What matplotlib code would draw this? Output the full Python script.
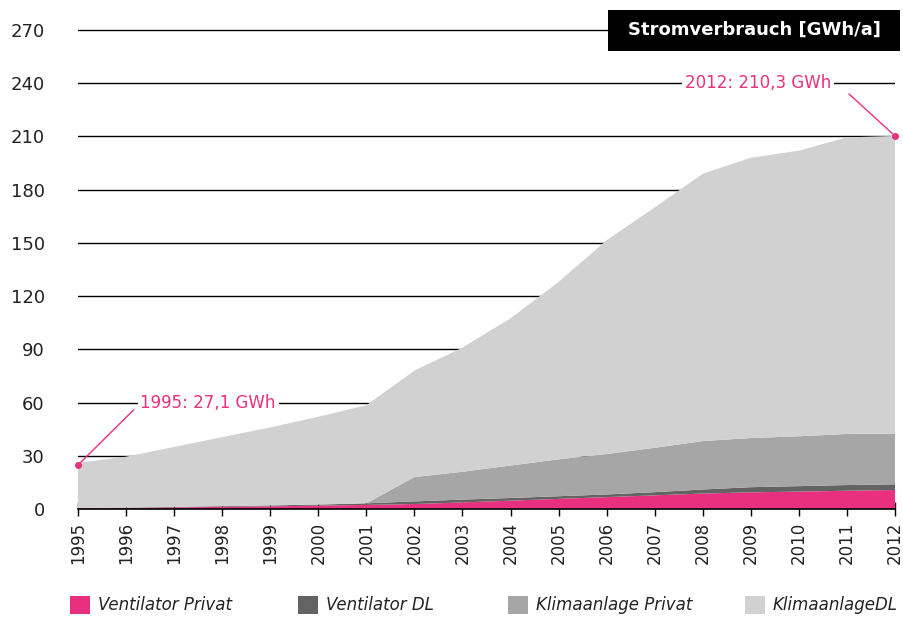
import matplotlib
matplotlib.use("Agg")
import matplotlib.pyplot as plt
from matplotlib.patches import Rectangle
import numpy as np

years = list(range(1995, 2013))
ventilator_privat = [0.3, 0.6, 0.9, 1.2, 1.5, 1.9, 2.3, 2.8, 3.7, 4.7, 5.7, 6.7, 7.7, 8.7, 9.4, 9.8, 10.3, 10.7]
ventilator_dl = [0.2, 0.2, 0.3, 0.4, 0.5, 0.6, 0.9, 1.5, 1.6, 1.5, 1.5, 1.5, 1.8, 2.3, 2.9, 3.1, 3.2, 3.2]
klima_privat = [0, 0, 0, 0, 0, 0, 0, 13.7, 15.7, 18.3, 20.8, 22.8, 25.0, 27.3, 27.7, 28.1, 28.8, 28.6]
total = [26.0, 29.5, 35.0, 40.5, 46.0, 52.0, 58.5, 78.0, 91.0, 107.5, 128.0, 151.5, 170.0, 189.0, 198.0, 202.0, 209.5, 210.3]
labels = ["Ventilator Privat", "Ventilator DL", "Klimaanlage Privat", "KlimaanlageDL"]
colors = ["#e8307f", "#636363", "#a6a6a6", "#d1d1d1"]
yticks = [0, 30, 60, 90, 120, 150, 180, 210, 240, 270]

vp = np.array(ventilator_privat)
vd = np.array(ventilator_dl)
kp = np.array(klima_privat)
kd = np.array(total) - vp - vd - kp

fig = plt.figure(figsize=(9.04, 6.17), dpi=100)
ax = fig.add_axes([78/904, (617-509)/617, (895-78)/904, 509/617])
ax.set_xlim(1995, 2012)
ax.set_ylim(0, 509/1.774)

for y in yticks[1:]:
    ax.axhline(y, color="black", lw=1.0, zorder=0)

ax.stackplot(years, vp, vd, kp, kd, colors=colors, linewidth=0, zorder=2)

for s in ["left", "right", "top"]:
    ax.spines[s].set_visible(False)
ax.spines["bottom"].set_linewidth(1.2)
ax.spines["bottom"].set_zorder(5)
ax.set_xticks(years)
ax.set_xticklabels([str(y) for y in years], rotation=90, fontsize=12, color="#222222")
ax.tick_params(axis="x", direction="inout", length=10, width=1, pad=4)
ax.set_yticks(yticks)
ax.set_yticklabels([str(y) for y in yticks], fontsize=13, color="#222222")
ax.tick_params(axis="y", length=0, pad=24)

pink = "#e8307f"
# annotation 1995
ax.plot([1995], [total[0] - 1.2], "o", color=pink, ms=4, zorder=6, clip_on=False)
ax.annotate("", xy=(1995, total[0] - 1.2), xytext=(1996.2, 57),
            arrowprops=dict(arrowstyle="-", color=pink, lw=1.0), zorder=6)
ax.text(1996.3, 60, "1995: 27,1 GWh", color=pink, fontsize=12, ha="left", va="center",
        bbox=dict(facecolor="white", edgecolor="none", pad=2), zorder=7)
# annotation 2012
ax.plot([2012], [total[-1]], "o", color=pink, ms=4, zorder=6, clip_on=False)
ax.annotate("", xy=(2012, total[-1]), xytext=(2011.0, 235),
            arrowprops=dict(arrowstyle="-", color=pink, lw=1.0), zorder=6)
ax.text(2010.68, 240, "2012: 210,3 GWh", color=pink, fontsize=12, ha="right", va="center",
        bbox=dict(facecolor="white", edgecolor="none", pad=2), zorder=7)

# title box
fig.patches.append(Rectangle((608/904, 1 - 51/617), (900-608)/904, 41/617,
                             transform=fig.transFigure, facecolor="black", edgecolor="none", zorder=10))
fig.text(754/904, 1 - 30/617, "Stromverbrauch [GWh/a]", color="white", fontsize=13,
         fontweight="bold", ha="center", va="center", zorder=11)

# legend
leg_sq = [70, 298, 508, 745]
for x0, lab, c in zip(leg_sq, labels, colors):
    fig.patches.append(Rectangle((x0/904, 1 - 614/617), 20/904, 18/617,
                                 transform=fig.transFigure, facecolor=c, edgecolor="none"))
    fig.text((x0 + 28)/904, 1 - 605/617, lab, fontsize=12, style="italic",
             color="#222222", ha="left", va="center")

fig.savefig("out.png", dpi=100, facecolor="white")
